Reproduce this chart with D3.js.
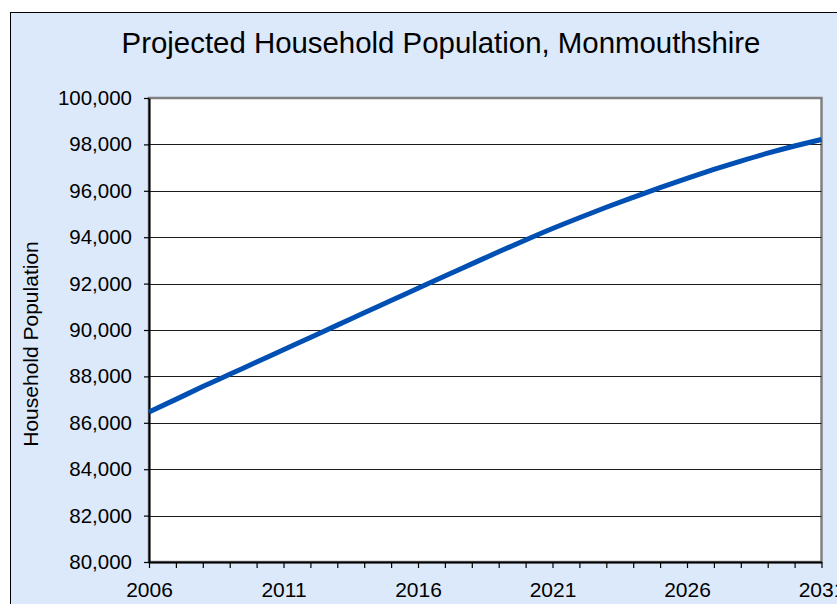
<!DOCTYPE html>
<html>
<head>
<meta charset="utf-8">
<script src="https://cdn.jsdelivr.net/npm/d3@7"></script>
<style>
  html, body { margin: 0; padding: 0; background: #ffffff; overflow: hidden; }
  svg { display: block; font-family: "Liberation Sans", Arial, sans-serif; }
</style>
</head>
<body>
<svg id="chart" width="837" height="604"></svg>
<script>
// Projected household population by year, Monmouthshire
const years = [2006, 2007, 2008, 2009, 2010, 2011, 2012, 2013, 2014, 2015, 2016,
               2017, 2018, 2019, 2020, 2021, 2022, 2023, 2024, 2025, 2026,
               2027, 2028, 2029, 2030, 2031];
const population = [86466, 87010, 87560, 88090, 88620, 89150, 89680, 90210, 90740, 91270, 91800,
                    92330, 92850, 93370, 93880, 94375, 94840, 95290, 95720, 96140, 96540,
                    96920, 97280, 97620, 97930, 98210];
const yTicks = [80000, 82000, 84000, 86000, 88000, 90000, 92000, 94000, 96000, 98000, 100000];
const xLabelYears = [2006, 2011, 2016, 2021, 2026, 2031];

const titleText = "Projected Household Population, Monmouthshire";
const yAxisTitle = "Household Population";

const svg = d3.select("#chart");
const plot = { left: 149, top: 98, right: 821.5, bottom: 562 };

// chart area background with its outer border
svg.append("rect")
  .attr("x", 10.5).attr("y", 12.5)
  .attr("width", 900).attr("height", 700)
  .attr("fill", "#dce9fb")
  .attr("stroke", "#000").attr("stroke-width", 1);

const x = d3.scaleLinear().domain([2006, 2031]).range([plot.left, plot.right]);
const y = d3.scaleLinear().domain([80000, 100000]).range([plot.bottom, plot.top]);

// plot area
svg.append("rect")
  .attr("x", plot.left).attr("y", plot.top)
  .attr("width", plot.right - plot.left).attr("height", plot.bottom - plot.top)
  .attr("fill", "#ffffff")
  .attr("stroke", "#808080").attr("stroke-width", 2.5);

// horizontal gridlines
svg.append("g")
  .selectAll("line")
  .data(yTicks.filter(v => v > 80000 && v < 100000))
  .join("line")
  .attr("x1", plot.left).attr("x2", plot.right)
  .attr("y1", d => Math.round(y(d)) + 0.5).attr("y2", d => Math.round(y(d)) + 0.5)
  .attr("stroke", "#1a1a1a").attr("stroke-width", 1);

// y axis
const fmt = d3.format(",");
const yAxis = svg.append("g")
  .attr("transform", `translate(${plot.left},0)`)
  .call(d3.axisLeft(y).tickValues(yTicks).tickFormat(fmt).tickSize(5).tickPadding(12).tickSizeOuter(0));
yAxis.select(".domain").attr("stroke", "#000").attr("stroke-width", 2);
yAxis.selectAll(".tick line").attr("stroke", "#000").attr("stroke-width", 1.2);
yAxis.selectAll(".tick text")
  .attr("font-size", 20.5).attr("fill", "#000")
  .attr("font-family", "Liberation Sans, Arial, sans-serif");

// x axis: a tick every year, label every five years
const xAxis = svg.append("g")
  .attr("transform", `translate(0,${plot.bottom})`)
  .call(d3.axisBottom(x).tickValues(years)
    .tickFormat(d => xLabelYears.includes(d) ? String(d) : "")
    .tickSize(6).tickPadding(14).tickSizeOuter(0));
xAxis.select(".domain").attr("stroke", "#000").attr("stroke-width", 2);
xAxis.selectAll(".tick line").attr("stroke", "#000").attr("stroke-width", 1.2);
xAxis.selectAll(".tick text")
  .attr("font-size", 21).attr("fill", "#000")
  .attr("font-family", "Liberation Sans, Arial, sans-serif");

// population line
const line = d3.line()
  .x((d, i) => x(years[i]))
  .y(d => y(d))
  .curve(d3.curveMonotoneX);

svg.append("path")
  .datum(population)
  .attr("d", line)
  .attr("fill", "none")
  .attr("stroke", "#0050b4")
  .attr("stroke-width", 5)
  .attr("stroke-linejoin", "round");

// title
svg.append("text")
  .attr("x", 441).attr("y", 53)
  .attr("text-anchor", "middle")
  .attr("font-size", 29.4)
  .attr("fill", "#000")
  .text(titleText);

// y axis title
svg.append("text")
  .attr("transform", `translate(38,${(plot.top + plot.bottom) / 2 + 14}) rotate(-90)`)
  .attr("text-anchor", "middle")
  .attr("font-size", 21)
  .attr("fill", "#000")
  .text(yAxisTitle);
</script>
</body>
</html>
